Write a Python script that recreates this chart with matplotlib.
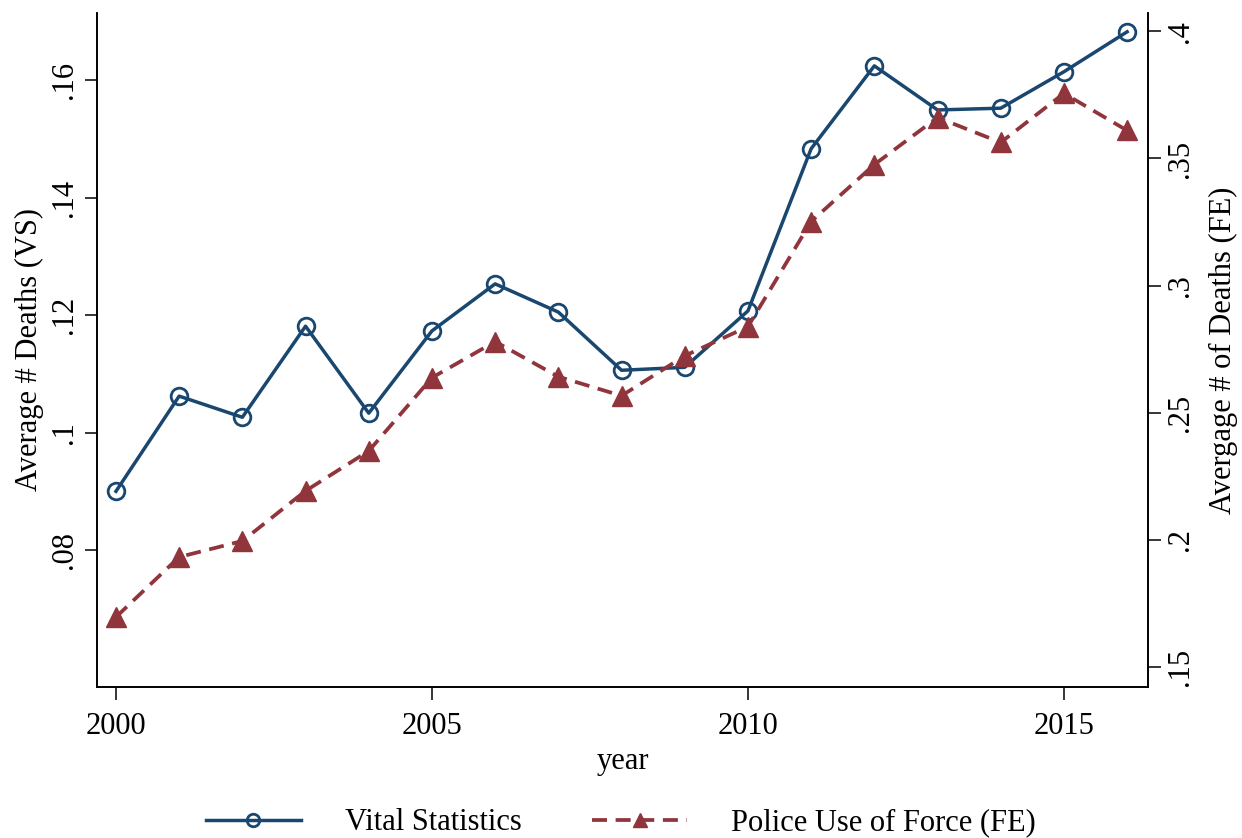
import matplotlib
matplotlib.use("Agg")
import matplotlib.pyplot as plt
from matplotlib.ticker import FuncFormatter

plt.rcParams["font.family"] = ["Liberation Serif", "DejaVu Serif"]

# Data
years = [2000, 2001, 2002, 2003, 2004, 2005, 2006, 2007, 2008,
         2009, 2010, 2011, 2012, 2013, 2014, 2015, 2016]
vital_stats = [0.0900, 0.1062, 0.1026, 0.1181, 0.1033, 0.1173, 0.1253, 0.1205, 0.1106,
               0.1111, 0.1207, 0.1483, 0.1624, 0.1549, 0.1552, 0.1614, 0.1682]
police_fe = [0.1697, 0.1933, 0.1996, 0.2193, 0.2350, 0.2638, 0.2780, 0.2642, 0.2567,
             0.2724, 0.2839, 0.3252, 0.3476, 0.3661, 0.3563, 0.3756, 0.3610]

vs_ticks = [0.08, 0.10, 0.12, 0.14, 0.16]
fe_ticks = [0.15, 0.20, 0.25, 0.30, 0.35, 0.40]
year_ticks = [2000, 2005, 2010, 2015]

navy = "#1a476f"
maroon = "#90353b"
fs = 22


def stata_fmt(v, pos):
    s = f"{v:.2f}".rstrip("0").rstrip(".")
    if s.startswith("0."):
        s = s[1:]
    return s


fig = plt.figure(figsize=(12.42, 8.38), dpi=100)
ax = fig.add_axes([0.0781, 0.1802, 0.8462, 0.8043])
ax2 = ax.twinx()

l1, = ax.plot(years, vital_stats, color=navy, lw=2.5, marker="o", ms=12,
              mfc="none", mec=navy, mew=2.0, label="Vital Statistics")
l2, = ax2.plot(years, police_fe, color=maroon, lw=2.7, ls=(0, (4, 2.3)), marker="^",
               ms=14, mfc=maroon, mec=maroon, label="Police Use of Force (FE)")

ax.set_xlim(1999.70, 2016.33)
ax.set_ylim(0.0567, 0.1714)
ax2.set_ylim(0.1422, 0.4072)

ax.set_xticks(year_ticks)
ax.set_yticks(vs_ticks)
ax2.set_yticks(fe_ticks)
ax.yaxis.set_major_formatter(FuncFormatter(stata_fmt))
ax2.yaxis.set_major_formatter(FuncFormatter(stata_fmt))

for a in (ax, ax2):
    a.spines["top"].set_visible(False)
    for s in a.spines.values():
        s.set_linewidth(1.2)
    a.tick_params(direction="out", length=9, width=1.1, labelsize=fs)

ax.tick_params(axis="y", labelrotation=90, pad=4)
ax2.tick_params(axis="y", labelrotation=90, pad=4)
for lab in ax.get_yticklabels() + ax2.get_yticklabels():
    lab.set_va("center")
ax.tick_params(axis="x", pad=9)

ax.set_xlabel("year", fontsize=fs, labelpad=4)
ax.set_ylabel("Average # Deaths (VS)", fontsize=fs, labelpad=4)
ax2.set_ylabel("Avergage # of Deaths (FE)", fontsize=fs, labelpad=10)

fig.legend(handles=[l1, l2], loc="lower center", bbox_to_anchor=(0.5, -0.032),
           ncol=2, frameon=False, fontsize=fs, handlelength=3.1, handletextpad=1.45,
           columnspacing=2.3, markerscale=0.75)

fig.savefig("out.png", dpi=100, facecolor="white")
